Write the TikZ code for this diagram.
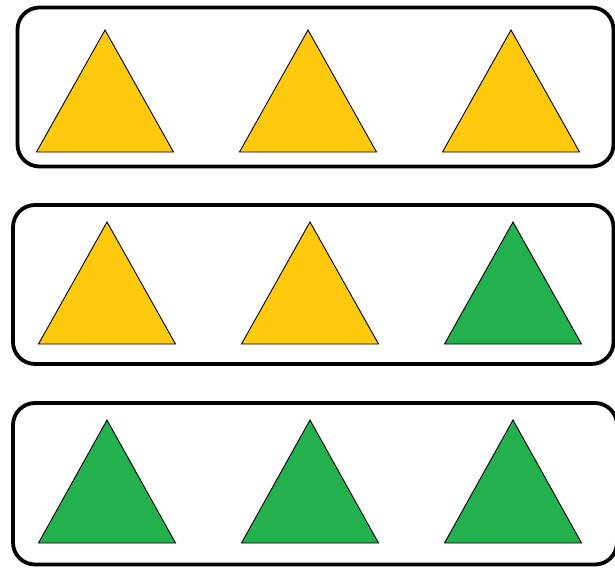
\documentclass[tikz,border=0pt]{standalone}
\definecolor{tyellow}{HTML}{FFC90E}
\definecolor{tgreen}{HTML}{22B14C}
\begin{document}
\begin{tikzpicture}[x=1pt,y=-1pt,
  panel/.style={draw=black,line width=3.8pt,rounded corners=22pt},
  tri/.style={draw=black,line width=0.9pt,line join=miter}]
\useasboundingbox (0,0) rectangle (615,567);
\fill[white] (0,0) rectangle (615,567);
\begin{scope}
\clip (0,0) rectangle (615,567);
% panels
\draw[panel] (17.5,7.5) rectangle (613.5,166.5);
\draw[panel] (13,205) rectangle (613.5,364);
\draw[panel] (13,403) rectangle (617,564.5);
\end{scope}
% row 1
\foreach \cx in {105,308,511}
  \draw[tri,fill=tyellow] (\cx,30) -- (\cx+68.5,152) -- (\cx-68.5,152) -- cycle;
% row 2
\foreach \cx/\c in {107/tyellow,310/tyellow,513/tgreen}
  \draw[tri,fill=\c] (\cx,222) -- (\cx+68.5,344) -- (\cx-68.5,344) -- cycle;
% row 3
\foreach \cx in {107,310,513}
  \draw[tri,fill=tgreen] (\cx,420) -- (\cx+68.5,543) -- (\cx-68.5,543) -- cycle;
\end{tikzpicture}
\end{document}
